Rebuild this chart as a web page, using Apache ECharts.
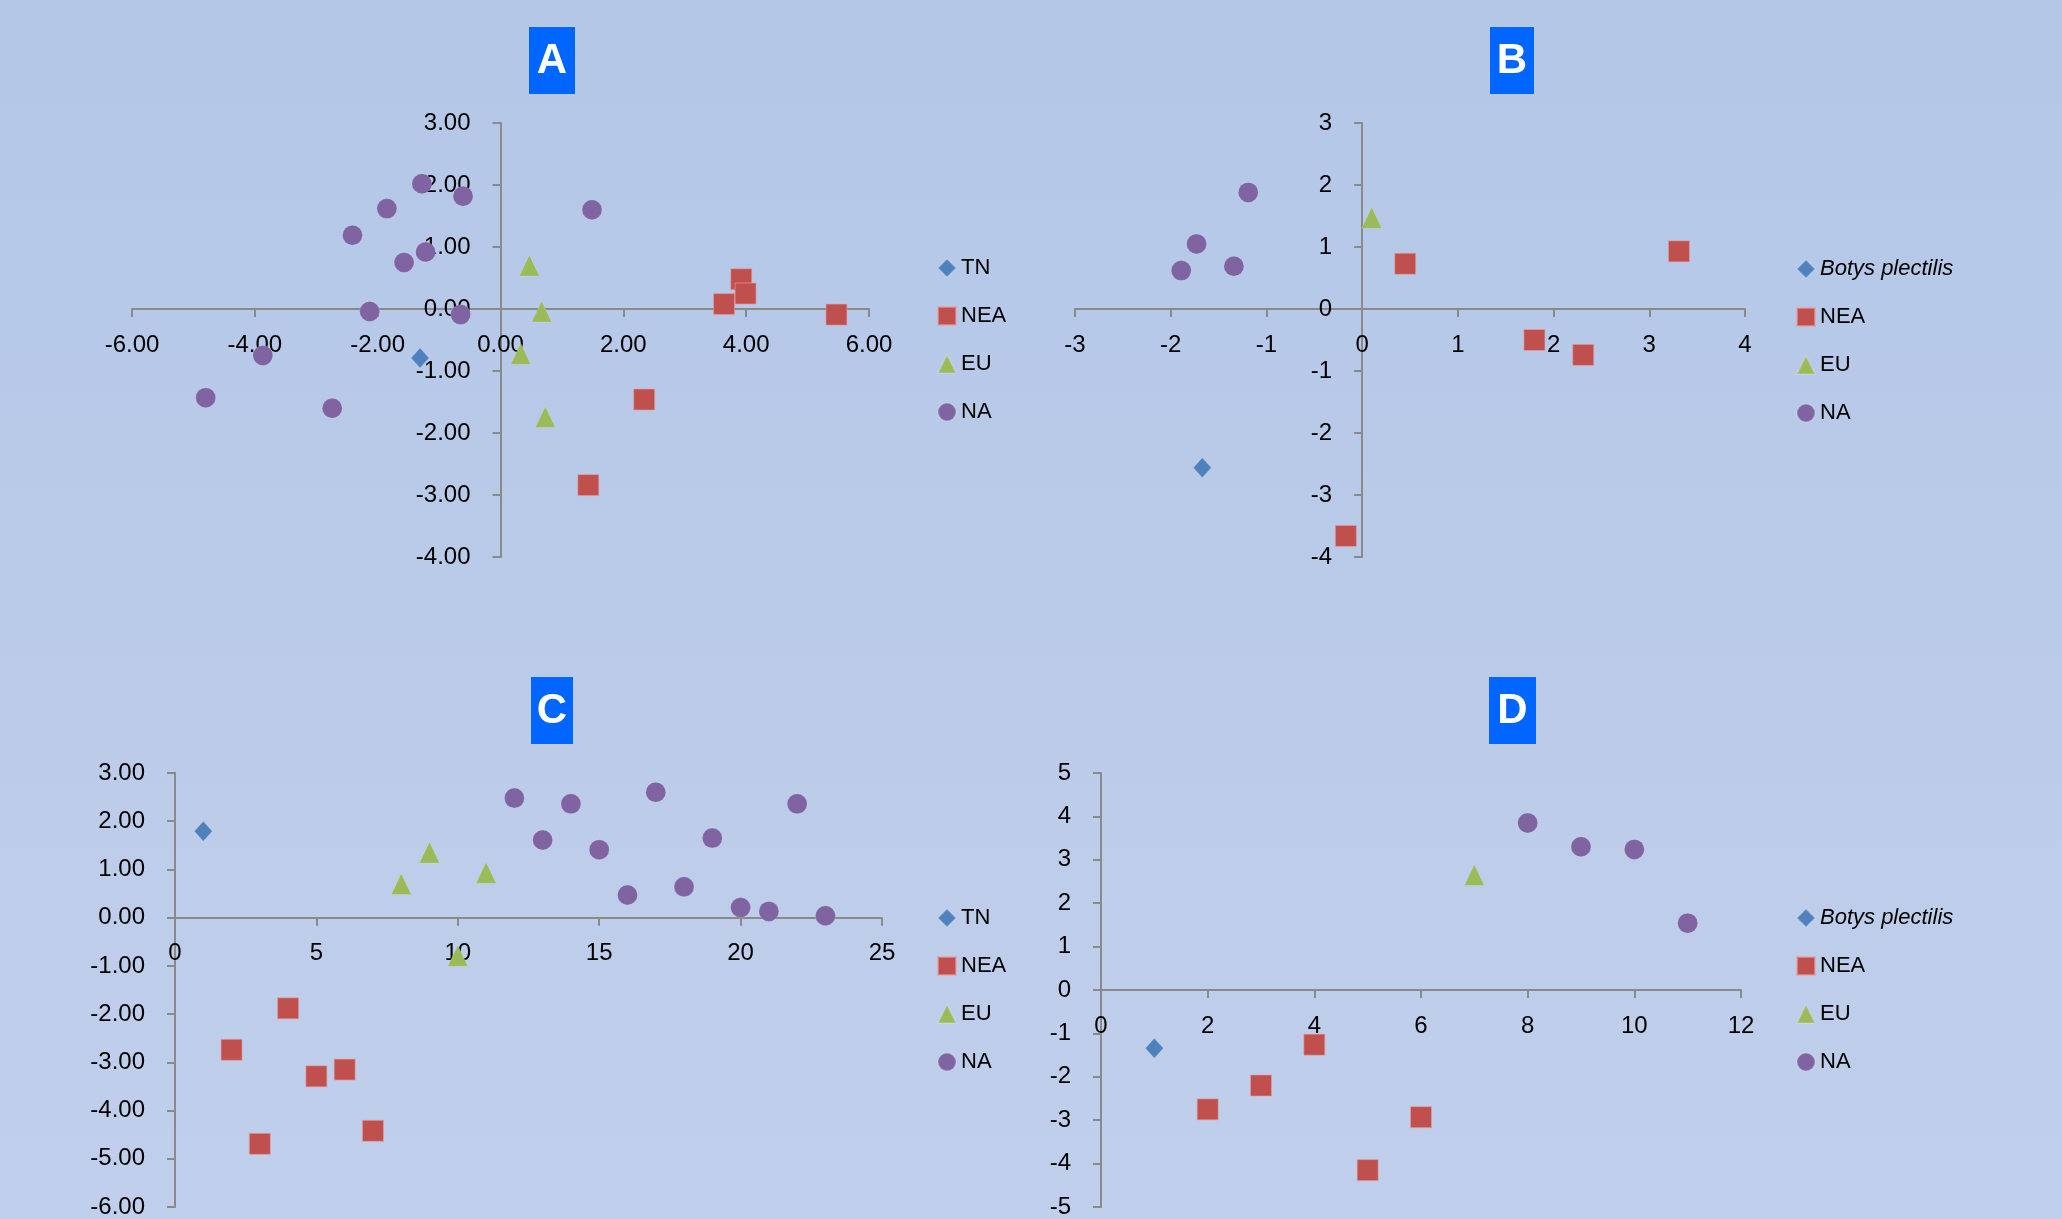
<!DOCTYPE html>
<html>
<head>
<meta charset="utf-8">
<script src="https://cdn.jsdelivr.net/npm/echarts@6/dist/echarts.min.js"></script>
<style>
  html, body { margin: 0; padding: 0; }
  #chart { width: 2062px; height: 1219px; }
</style>
</head>
<body>
<div id="chart"></div>
<script>
// Panel A
const aTN  = [[-1.31, -0.79]];
const aNEA = [[3.92, 0.48], [3.99, 0.25], [3.64, 0.08], [5.47, -0.09], [2.34, -1.46], [1.43, -2.84]];
const aEU  = [[0.47, 0.70], [0.67, -0.04], [0.33, -0.72], [0.73, -1.74]];
const aNA  = [[-1.28, 2.02], [-0.61, 1.82], [-1.85, 1.62], [1.49, 1.60], [-2.41, 1.19], [-1.22, 0.92],
              [-1.57, 0.75], [-2.13, -0.04], [-0.65, -0.09], [-3.87, -0.75], [-4.80, -1.43], [-2.74, -1.60]];

// Panel B
const bTN  = [[-1.67, -2.56]];
const bNEA = [[0.45, 0.73], [3.31, 0.93], [1.80, -0.50], [2.31, -0.74], [-0.17, -3.66]];
const bEU  = [[0.10, 1.47]];
const bNA  = [[-1.19, 1.88], [-1.73, 1.05], [-1.89, 0.62], [-1.34, 0.69]];

// Panel C
const cTN  = [[1, 1.79]];
const cNEA = [[2, -2.74], [3, -4.69], [4, -1.88], [5, -3.29], [6, -3.15], [7, -4.42]];
const cEU  = [[8, 0.70], [9, 1.35], [10, -0.79], [11, 0.93]];
const cNA  = [[12, 2.48], [13, 1.61], [14, 2.36], [15, 1.41], [16, 0.47], [17, 2.60],
              [18, 0.64], [19, 1.65], [20, 0.21], [21, 0.13], [22, 2.36], [23, 0.04]];

// Panel D
const dTN  = [[1, -1.34]];
const dNEA = [[2, -2.75], [3, -2.20], [4, -1.26], [5, -4.15], [6, -2.93]];
const dEU  = [[7, 2.65]];
const dNA  = [[8, 3.85], [9, 3.30], [10, 3.24], [11, 1.54]];

const panelLetters = ['A', 'B', 'C', 'D'];
const firstGroup = ['TN', 'Botys plectilis', 'TN', 'Botys plectilis'];
const groupNames = ['NEA', 'EU', 'NA'];

const FONT = '"Liberation Sans", Arial, sans-serif';
const AXIS_GRAY = '#8a8a8a';
const COLORS = { first: '#4F81BD', NEA: '#C0504D', EU: '#9BBB59', NA: '#8064A2' };

const panelData = [
  [aTN, aNEA, aEU, aNA],
  [bTN, bNEA, bEU, bNA],
  [cTN, cNEA, cEU, cNA],
  [dTN, dNEA, dEU, dNA]
];

// grid boxes (px)
const grids = [
  { left: 132, top: 123, width: 737, height: 434 },
  { left: 1075, top: 123, width: 670, height: 434 },
  { left: 175, top: 773, width: 707, height: 434 },
  { left: 1101, top: 773, width: 640, height: 434 }
];

const xRanges = [[-6, 6, 2], [-3, 4, 1], [0, 25, 5], [0, 12, 2]];
const yRanges = [[-4, 3, 1], [-4, 3, 1], [-6, 3, 1], [-5, 5, 1]];
const xDecimals = [true, false, false, false];
const yDecimals = [true, false, true, false];

// shift an axis from the grid edge to the other axis' zero line
function zeroOffset(range, size) {
  return -((0 - range[0]) / (range[1] - range[0])) * size;
}

function axisBase(range, fmt, margin) {
  return {
    type: 'value',
    min: range[0], max: range[1], interval: range[2],
    axisLine: { show: true, onZero: false, lineStyle: { color: AXIS_GRAY, width: 2 } },
    axisTick: { show: true, inside: false, length: 8, lineStyle: { color: AXIS_GRAY, width: 2 } },
    splitLine: { show: false },
    axisLabel: {
      margin: margin,
      color: '#000',
      fontSize: 24,
      fontFamily: FONT,
      formatter: v => fmt ? v.toFixed(2) : String(v)
    }
  };
}

const xAxes = [], yAxes = [], series = [], legends = [], graphics = [];

const legendPos = [
  { left: 937, top: 257 },
  { left: 1796, top: 258 },
  { left: 937, top: 907 },
  { left: 1796, top: 907 }
];

const titleBoxes = [
  { x: 529, y: 27, w: 46, h: 67 },
  { x: 1490, y: 27, w: 44, h: 67 },
  { x: 531, y: 677, w: 42, h: 67 },
  { x: 1489, y: 677, w: 47, h: 67 }
];

for (let p = 0; p < 4; p++) {
  const g = grids[p];
  xAxes.push(Object.assign({ gridIndex: p, position: 'bottom',
    offset: zeroOffset(yRanges[p], g.height) }, axisBase(xRanges[p], xDecimals[p], 24)));
  yAxes.push(Object.assign({ gridIndex: p, position: 'left',
    offset: zeroOffset(xRanges[p], g.width) }, axisBase(yRanges[p], yDecimals[p], 30)));

  const names = [firstGroup[p]].concat(groupNames);
  const symbols = ['diamond', 'rect', 'triangle', 'circle'];
  const sizes = [[18, 20], [21, 21], [20, 21], [20, 20]];
  const colors = [COLORS.first, COLORS.NEA, COLORS.EU, COLORS.NA];

  for (let s = 0; s < 4; s++) {
    series.push({
      type: 'scatter',
      name: names[s],
      xAxisIndex: p,
      yAxisIndex: p,
      symbol: symbols[s],
      symbolSize: sizes[s],
      itemStyle: {
        color: colors[s],
        opacity: 1,
        borderColor: s === 1 ? 'rgba(230,160,160,0.6)' : 'rgba(255,255,255,0.15)',
        borderWidth: 1
      },
      emphasis: { disabled: true },
      data: panelData[p][s],
      z: 3
    });
  }

  legends.push({
    orient: 'vertical',
    left: legendPos[p].left,
    top: legendPos[p].top,
    padding: 0,
    itemWidth: 18,
    itemHeight: 18,
    itemGap: 26,
    selectedMode: false,
    textStyle: {
      fontSize: 22,
      fontFamily: FONT,
      color: '#000',
      lineHeight: 22,
      rich: { i: { fontStyle: 'italic', fontSize: 22, fontFamily: FONT, color: '#000' } }
    },
    formatter: n => n === 'Botys plectilis' ? '{i|' + n + '}' : n,
    data: names.map((n, i) => ({ name: n, icon: symbols[i], itemStyle: { color: colors[i] } }))
  });

  const b = titleBoxes[p];
  graphics.push({
    type: 'group',
    children: [
      { type: 'rect', shape: { x: b.x, y: b.y, width: b.w, height: b.h }, style: { fill: '#0066FF' } },
      {
        type: 'text',
        x: b.x + b.w / 2, y: b.y + b.h / 2 + 1,
        style: {
          text: panelLetters[p], fill: '#fff', fontSize: 42, fontWeight: 'bold',
          fontFamily: FONT, align: 'center', verticalAlign: 'middle'
        }
      }
    ]
  });
}

const chart = echarts.init(document.getElementById('chart'), null, { renderer: 'canvas' });
chart.setOption({
  animation: false,
  backgroundColor: {
    type: 'linear', x: 0, y: 0, x2: 0, y2: 1,
    colorStops: [{ offset: 0, color: '#B4C7E7' }, { offset: 1, color: '#C0CFEB' }]
  },
  grid: grids.map(g => Object.assign({ containLabel: false }, g)),
  xAxis: xAxes,
  yAxis: yAxes,
  legend: legends,
  series: series,
  graphic: graphics
});
</script>
</body>
</html>
